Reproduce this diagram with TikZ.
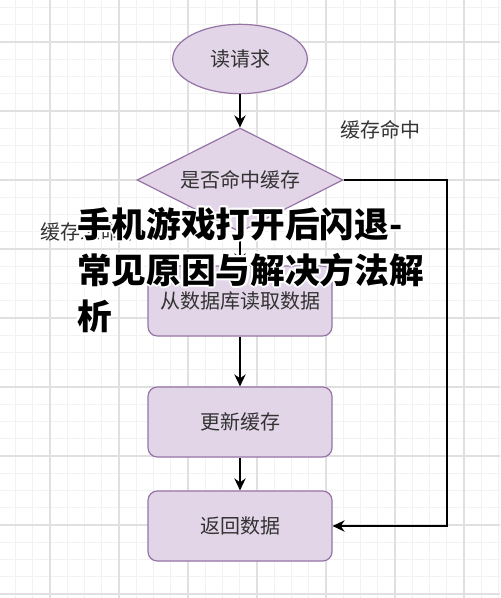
\documentclass[tikz,border=0pt]{standalone}
\usepackage{fontspec}
\newfontfamily\cjk{Noto Sans CJK SC}
\newfontfamily\cjkheavy{Noto Sans CJK SC Black}
\usetikzlibrary{shapes.geometric, arrows.meta, calc}

\definecolor{boxfill}{HTML}{E1D5E7}
\definecolor{boxline}{HTML}{9673A6}
\definecolor{txt}{HTML}{333333}
\definecolor{gridminor}{HTML}{F2F2F2}
\definecolor{gridmajor}{HTML}{E0E0E0}

\tikzset{
	flowbox/.style={draw=boxline, fill=boxfill, line width=0.9pt, rounded corners=7pt,
		minimum width=138pt, minimum height=52.5pt, text=txt, font=\cjk\fontsize{15}{18}\selectfont},
	flowarrow/.style={-{Stealth[length=9pt, width=8.5pt]}, line width=1.2pt},
	note/.style={text=txt, font=\cjk\fontsize{15}{18}\selectfont},
	title/.style={anchor=north west, align=left, inner sep=0pt, font=\cjkheavy\fontsize{26}{34.5}\selectfont}
}

\begin{document}
\begin{tikzpicture}[x=0.75pt, y=-0.75pt]
		\useasboundingbox (0,0) rectangle (500,598);
		\fill[white] (0,0) rectangle (500,598);

		% grid
		\foreach \i in {-1,...,28}
			\draw[gridminor, line width=0.6pt] (15.5+17.25*\i,0) -- (15.5+17.25*\i,598);
		\foreach \i in {0,...,34}
			\draw[gridminor, line width=0.6pt] (0,7.5+17.25*\i) -- (500,7.5+17.25*\i);
		\foreach \k in {-1,...,6}
			\draw[gridmajor, line width=0.8pt] (50+69*\k,0) -- (50+69*\k,598);
		\foreach \k in {0,...,8}
			\draw[gridmajor, line width=0.8pt] (0,42+69*\k) -- (500,42+69*\k);

		% nodes
		\node[flowbox, ellipse, rounded corners=0pt, minimum width=101pt, minimum height=52pt] (req) at (240,59) {读请求};
		\node[flowbox, diamond, rounded corners=0pt, aspect=2, inner sep=0pt, minimum width=154.5pt, minimum height=78pt] (hit) at (240,180) {是否命中缓存};
		\node[flowbox] (db) at (240,301) {从数据库读取数据};
		\node[flowbox] (upd) at (240,422) {更新缓存};
		\node[flowbox] (ret) at (240,526) {返回数据};

		\node[note] (lblhit) at (380,130) {缓存命中};
		\node[note] (lblmiss) at (90,232) {缓存未命中};

		% connectors
		\coordinate (turn) at (447,180);
		\draw[flowarrow] (req) -- (hit);
		\draw[flowarrow] (hit) -- (db);
		\draw[flowarrow] (db) -- (upd);
		\draw[flowarrow] (upd) -- (ret);
		\draw[flowarrow] (hit.east) -- (turn) |- (ret.east);

		% title with white halo
		\foreach \a in {0,45,...,315}
			\node[title, white] (halo\a) at ($(77,207)+(\a:1.6pt)$) {手机游戏打开后闪退-\\常见原因与解决方法解\\析};
		\node[title] (heading) at (77,207) {手机游戏打开后闪退-\\常见原因与解决方法解\\析};
	\end{tikzpicture}
\end{document}
